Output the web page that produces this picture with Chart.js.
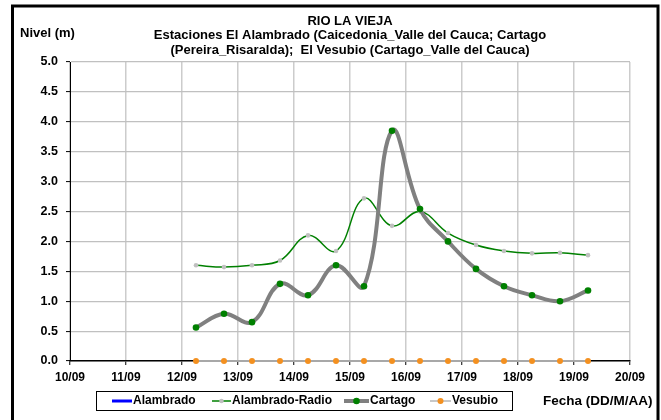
<!DOCTYPE html>
<html>
<head>
<meta charset="utf-8">
<script src="https://cdn.jsdelivr.net/npm/chart.js@4/dist/chart.umd.min.js"></script>
<style>
  html, body { margin: 0; padding: 0; background: #ffffff; }
  #wrap { width: 661px; height: 420px; position: relative; }
  canvas { display: block; }
</style>
</head>
<body>
<div id="wrap"><canvas id="chart" width="661" height="420"></canvas></div>
<script>
// Titles and axis captions
const titleLines = [
  'RIO LA VIEJA',
  'Estaciones El Alambrado (Caicedonia_Valle del Cauca; Cartago',
  '(Pereira_Risaralda);  El Vesubio (Cartago_Valle del Cauca)'
];
const yAxisTitle = 'Nivel (m)';
const xAxisTitle = 'Fecha (DD/M/AA)';

// Date axis: day of September, ticks every day
const xTickDays = [10, 11, 12, 13, 14, 15, 16, 17, 18, 19, 20];
const xTickLabels = ['10/09', '11/09', '12/09', '13/09', '14/09', '15/09', '16/09', '17/09', '18/09', '19/09', '20/09'];

// Readings at 06:00 and 18:00 (day fraction of September)
const sampleDays = [12.25, 12.75, 13.25, 13.75, 14.25, 14.75, 15.25, 15.75, 16.25, 16.75, 17.25, 17.75, 18.25, 18.75, 19.25];

// Water level (m) per station
const alambrado = [];
const alambradoRadio = [1.60, 1.57, 1.60, 1.68, 2.10, 1.84, 2.72, 2.26, 2.50, 2.14, 1.94, 1.84, 1.80, 1.81, 1.77];
const cartago = [0.56, 0.79, 0.65, 1.29, 1.10, 1.60, 1.25, 3.85, 2.54, 2.00, 1.54, 1.25, 1.10, 1.00, 1.18];
const vesubio = [0, 0, 0, 0, 0, 0, 0, 0, 0, 0, 0, 0, 0, 0, 0];

const FONT = '"Liberation Sans", Arial, sans-serif';

function toPoints(values) {
  return values.map((v, i) => ({ x: sampleDays[i], y: v }));
}

const datasets = [
  {
    label: 'Alambrado',
    data: toPoints(alambrado),
    borderColor: '#0000ff',
    backgroundColor: '#0000ff',
    borderWidth: 3,
    pointRadius: 0,
    order: 4,
    legendMarker: null
  },
  {
    label: 'Alambrado-Radio',
    data: toPoints(alambradoRadio),
    borderColor: '#008000',
    backgroundColor: '#c0c0c0',
    borderWidth: 1.5,
    pointRadius: 2.3,
    pointBorderWidth: 0,
    pointBackgroundColor: '#c0c0c0',
    pointBorderColor: '#c0c0c0',
    tension: 0.4,
    clip: false,
    order: 3,
    legendMarker: '#c0c0c0'
  },
  {
    label: 'Cartago',
    data: toPoints(cartago),
    borderColor: '#808080',
    backgroundColor: '#008000',
    borderWidth: 4,
    pointRadius: 3.3,
    pointBorderWidth: 0,
    pointBackgroundColor: '#008000',
    pointBorderColor: '#008000',
    tension: 0.4,
    clip: false,
    order: 2,
    legendMarker: '#008000'
  },
  {
    label: 'Vesubio',
    data: toPoints(vesubio),
    borderColor: '#a8a8a8',
    backgroundColor: '#f39020',
    borderWidth: 2,
    pointRadius: 3,
    pointBorderWidth: 0,
    pointBackgroundColor: '#f39020',
    pointBorderColor: '#f39020',
    tension: 0,
    clip: false,
    order: 1,
    legendMarker: '#f39020',
    legendLineColor: '#c8c8c8'
  }
];

// Frame, titles, captions and the boxed legend row
const decorations = {
  id: 'decorations',
  afterDraw(chart) {
    const ctx = chart.ctx;
    const area = chart.chartArea;
    ctx.save();

    // outer frame
    ctx.strokeStyle = '#000000';
    ctx.lineWidth = 3;
    ctx.strokeRect(12.5, 6, 645.5, 430);

    ctx.fillStyle = '#000000';
    ctx.textBaseline = 'middle';

    // title block, centred over the plot
    ctx.font = 'bold 13px ' + FONT;
    ctx.textAlign = 'center';
    const cx = (area.left + area.right) / 2;
    titleLines.forEach((line, i) => ctx.fillText(line, cx, 21 + i * 14.5));

    // axis captions
    ctx.textAlign = 'left';
    ctx.font = 'bold 13px ' + FONT;
    ctx.fillText(yAxisTitle, 20, 33);
    ctx.font = 'bold 13.5px ' + FONT;
    ctx.fillText(xAxisTitle, 543, 401);

    // legend box
    ctx.strokeStyle = '#000000';
    ctx.lineWidth = 1;
    ctx.strokeRect(96.5, 391.5, 416, 19);

    const items = [
      { ds: 0, x0: 112, x1: 132 },
      { ds: 1, x0: 212, x1: 231 },
      { ds: 2, x0: 344, x1: 369 },
      { ds: 3, x0: 430, x1: 451 }
    ];
    const ly = 401;
    items.forEach(it => {
      const ds = chart.data.datasets[it.ds];
      ctx.strokeStyle = ds.legendLineColor || ds.borderColor;
      ctx.lineWidth = ds.borderWidth;
      ctx.beginPath();
      ctx.moveTo(it.x0, ly);
      ctx.lineTo(it.x1, ly);
      ctx.stroke();
      if (ds.legendMarker) {
        ctx.fillStyle = ds.legendMarker;
        ctx.beginPath();
        ctx.arc((it.x0 + it.x1) / 2, ly, ds.pointRadius, 0, Math.PI * 2);
        ctx.fill();
      }
      ctx.fillStyle = '#000000';
      ctx.font = 'bold 12px ' + FONT;
      ctx.textAlign = 'left';
      ctx.fillText(ds.label, it.x1 + 1, ly);
    });

    ctx.restore();
  }
};

new Chart(document.getElementById('chart'), {
  type: 'line',
  data: { datasets },
  options: {
    responsive: false,
    animation: false,
    devicePixelRatio: 1,
    layout: { padding: { left: 0, right: 31, top: 62, bottom: 35 } },
    plugins: {
      legend: { display: false },
      title: { display: false },
      tooltip: { enabled: false }
    },
    scales: {
      x: {
        type: 'linear',
        min: 10,
        max: 20,
        afterFit(scale) { scale.height = 24; },
        afterBuildTicks(scale) { scale.ticks = xTickDays.map(v => ({ value: v })); },
        ticks: {
          color: '#000000',
          font: { family: FONT, size: 12, weight: 'bold' },
          padding: 5,
          maxRotation: 0,
          autoSkip: false,
          callback(value) {
            const i = xTickDays.indexOf(value);
            return i >= 0 ? xTickLabels[i] : '';
          }
        },
        grid: { color: '#cccccc', lineWidth: 1.5, tickLength: 4, tickColor: '#000000', tickWidth: 1 },
        border: { color: '#000000', width: 1.5 }
      },
      y: {
        min: 0,
        max: 5,
        afterFit(scale) { scale.width = 70; },
        ticks: {
          stepSize: 0.5,
          color: '#000000',
          font: { family: FONT, size: 12.5, weight: 'bold' },
          padding: 8,
          callback(value) { return value.toFixed(1); }
        },
        grid: { color: '#c0c0c0', lineWidth: 1.2, tickLength: 4, tickColor: '#000000', tickWidth: 1 },
        border: { color: '#000000', width: 1 }
      }
    }
  },
  plugins: [decorations]
});
</script>
</body>
</html>
